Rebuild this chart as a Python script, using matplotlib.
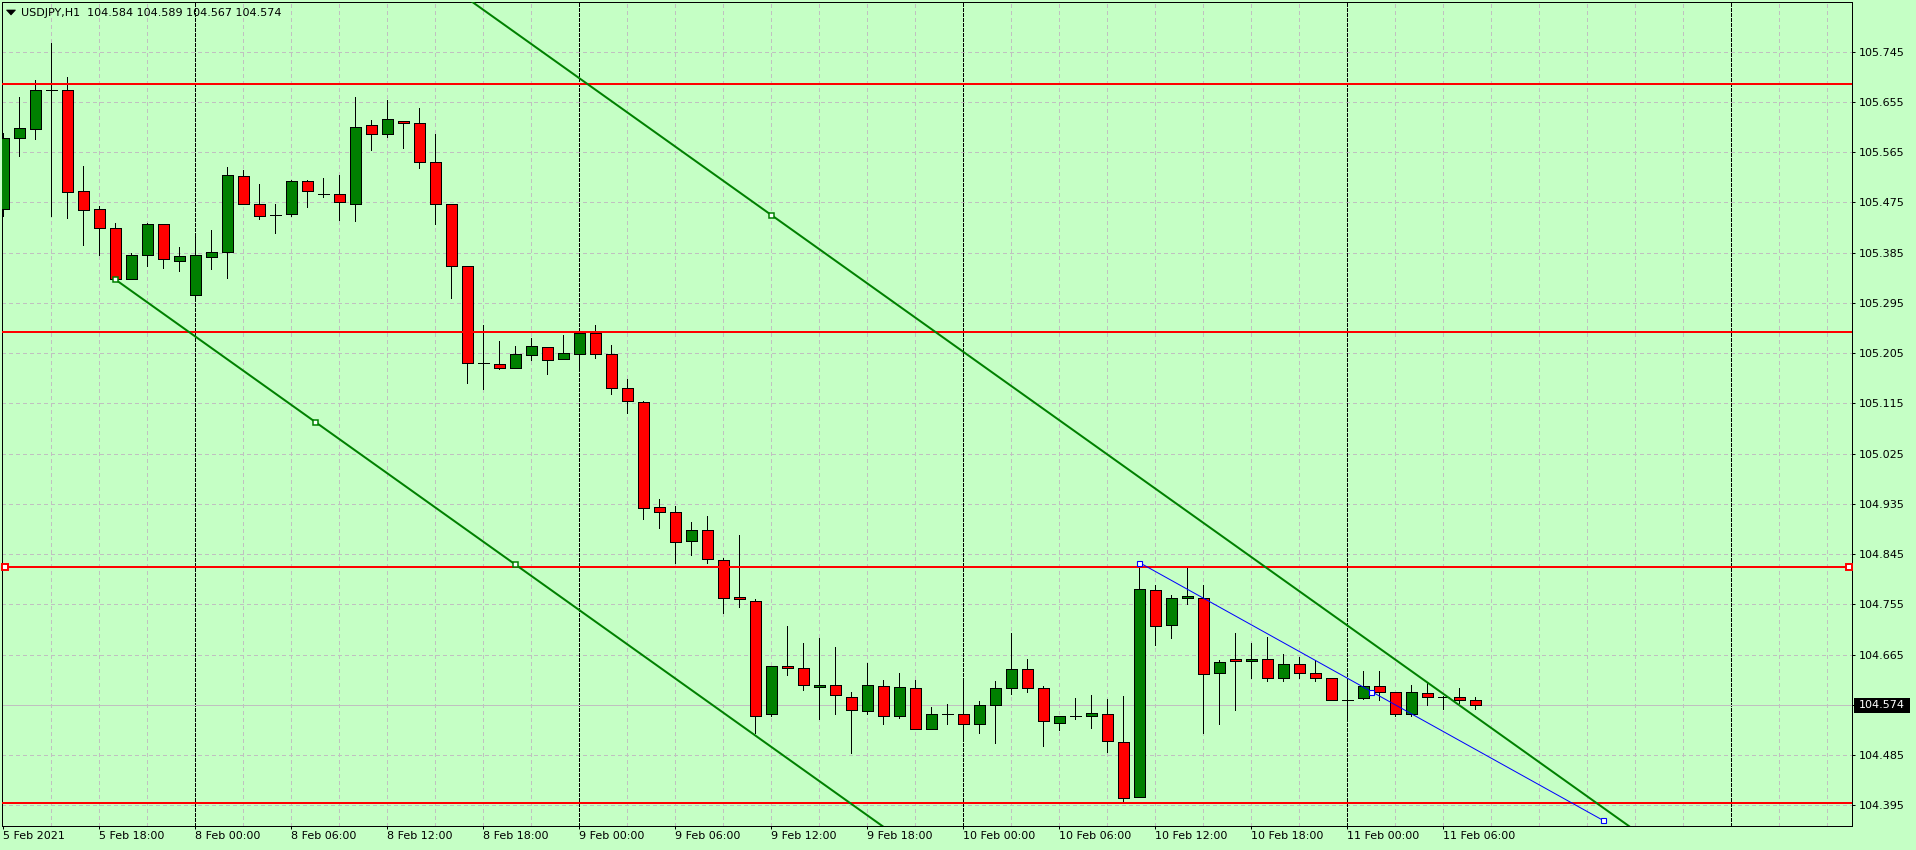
import matplotlib
matplotlib.use("Agg")
import matplotlib.pyplot as plt
from matplotlib.patches import Rectangle, Polygon

# ---------------- data ----------------
header_text = "USDJPY,H1  104.584 104.589 104.567 104.574"

opens = [105.463, 105.590, 105.606, 105.676, 105.676, 105.495, 105.463, 105.429, 105.337, 105.380,
         105.436, 105.371, 105.309, 105.377, 105.386, 105.522, 105.473, 105.453, 105.454, 105.513,
         105.491, 105.491, 105.473, 105.613, 105.597, 105.621, 105.617, 105.547, 105.473, 105.361,
         105.187, 105.185, 105.178, 105.201, 105.216, 105.194, 105.203, 105.241, 105.203, 105.142,
         105.117, 104.929, 104.920, 104.868, 104.888, 104.834, 104.768, 104.762, 104.558, 104.645,
         104.642, 104.607, 104.610, 104.590, 104.564, 104.608, 104.555, 104.605, 104.531, 104.558,
         104.558, 104.540, 104.574, 104.605, 104.639, 104.605, 104.542, 104.555, 104.555, 104.558,
         104.508, 104.410, 104.780, 104.718, 104.766, 104.766, 104.632, 104.657, 104.653, 104.658,
         104.623, 104.648, 104.633, 104.624, 104.584, 104.587, 104.608, 104.599, 104.558, 104.596,
         104.590, 104.590, 104.584]
highs = [105.600, 105.663, 105.694, 105.760, 105.699, 105.540, 105.469, 105.439, 105.384, 105.439,
         105.436, 105.396, 105.414, 105.426, 105.538, 105.534, 105.508, 105.472, 105.516, 105.515,
         105.518, 105.524, 105.663, 105.623, 105.659, 105.621, 105.644, 105.598, 105.473, 105.362,
         105.255, 105.227, 105.217, 105.232, 105.216, 105.238, 105.247, 105.256, 105.219, 105.159,
         105.119, 104.944, 104.931, 104.903, 104.913, 104.839, 104.879, 104.764, 104.644, 104.716,
         104.686, 104.694, 104.679, 104.599, 104.650, 104.620, 104.632, 104.620, 104.572, 104.576,
         104.621, 104.582, 104.618, 104.704, 104.657, 104.608, 104.555, 104.587, 104.593, 104.586,
         104.591, 104.830, 104.789, 104.772, 104.821, 104.790, 104.655, 104.704, 104.685, 104.697,
         104.666, 104.661, 104.655, 104.624, 104.620, 104.636, 104.636, 104.599, 104.611, 104.615,
         104.591, 104.606, 104.589]
lows = [105.450, 105.559, 105.589, 105.451, 105.448, 105.398, 105.380, 105.337, 105.337, 105.362,
        105.358, 105.353, 105.303, 105.355, 105.339, 105.473, 105.446, 105.421, 105.451, 105.467,
        105.484, 105.444, 105.442, 105.569, 105.592, 105.573, 105.536, 105.436, 105.304, 105.152,
        105.141, 105.176, 105.178, 105.192, 105.168, 105.194, 105.174, 105.197, 105.132, 105.097,
        104.908, 104.892, 104.830, 104.844, 104.830, 104.739, 104.750, 104.525, 104.556, 104.629,
        104.601, 104.549, 104.559, 104.488, 104.558, 104.540, 104.552, 104.531, 104.531, 104.541,
        104.517, 104.524, 104.506, 104.594, 104.598, 104.501, 104.530, 104.549, 104.533, 104.491,
        104.401, 104.410, 104.683, 104.695, 104.755, 104.525, 104.540, 104.565, 104.624, 104.617,
        104.617, 104.624, 104.618, 104.583, 104.551, 104.585, 104.583, 104.556, 104.556, 104.574,
        104.567, 104.578, 104.567]
closes = [105.590, 105.608, 105.676, 105.676, 105.494, 105.461, 105.429, 105.337, 105.380, 105.436,
          105.373, 105.379, 105.380, 105.386, 105.524, 105.473, 105.450, 105.453, 105.513, 105.495,
          105.491, 105.475, 105.611, 105.597, 105.624, 105.617, 105.547, 105.473, 105.361, 105.187,
          105.187, 105.178, 105.203, 105.217, 105.192, 105.205, 105.241, 105.204, 105.142, 105.119,
          104.927, 104.920, 104.866, 104.888, 104.836, 104.766, 104.764, 104.556, 104.644, 104.642,
          104.610, 104.610, 104.592, 104.565, 104.610, 104.555, 104.607, 104.531, 104.558, 104.558,
          104.540, 104.574, 104.605, 104.639, 104.605, 104.546, 104.555, 104.555, 104.560, 104.510,
          104.408, 104.782, 104.716, 104.766, 104.770, 104.630, 104.651, 104.653, 104.658, 104.623,
          104.648, 104.633, 104.624, 104.583, 104.584, 104.608, 104.599, 104.558, 104.598, 104.590,
          104.590, 104.583, 104.574]

time_tick_bars = [0, 6, 12, 18, 24, 30, 36, 42, 48, 54, 60, 66, 72, 78, 84, 90]
time_tick_labels = ["5 Feb 2021", "5 Feb 18:00", "8 Feb 00:00", "8 Feb 06:00", "8 Feb 12:00",
                    "8 Feb 18:00", "9 Feb 00:00", "9 Feb 06:00", "9 Feb 12:00", "9 Feb 18:00",
                    "10 Feb 00:00", "10 Feb 06:00", "10 Feb 12:00", "10 Feb 18:00",
                    "11 Feb 00:00", "11 Feb 06:00"]
day_separator_bars = [12, 36, 60, 84, 108]

price_levels = [105.745, 105.655, 105.565, 105.475, 105.385, 105.295, 105.205, 105.115,
                105.025, 104.935, 104.845, 104.755, 104.665, 104.575, 104.485, 104.395]
price_labels = ["105.745", "105.655", "105.565", "105.475", "105.385", "105.295", "105.205",
                "105.115", "105.025", "104.935", "104.845", "104.755", "104.665", "",
                "104.485", "104.395"]

hlines_red = [105.687, 105.2435, 104.8226, 104.3998]
channel_a = (7, 105.337)      # lower line anchor 1
channel_b = (32, 104.8265)    # lower line anchor 2
channel_c = (48, 105.4525)    # upper parallel line anchor
blue_a = (71, 104.830)
blue_b = (100, 104.368)
bid_price = 104.574
bid_label = "104.574"

# ---------------- style ----------------
BG = "#C5FFC5"
GRID = "#C0C0C0"
BULL = "#008000"
BEAR = "#FF0000"
PX = 0.72  # one pixel in points at dpi 100

W, H = 1916, 850
fig = plt.figure(figsize=(W / 100, H / 100), dpi=100)
fig.patch.set_facecolor(BG)

ax_l, ax_r, ax_t, ax_b = 2.3, 1852.3, 2.3, 826.0
ax = fig.add_axes([ax_l / W, (H - ax_b) / H, (ax_r - ax_l) / W, (ax_b - ax_t) / H])
ax.set_facecolor(BG)

n_bars = len(opens)
xs = list(range(n_bars))
ax.set_xlim(-0.0625, 115.5625)
ax.set_ylim(104.3581, 105.8335)

# grid
for b in range(3, 116, 3):
    if b in day_separator_bars:
        continue
    ax.axvline(b, color=GRID, lw=PX, ls=(0, (3, 3)), zorder=0.5, antialiased=False)
for p in price_levels:
    ax.axhline(p, color=GRID, lw=PX, ls=(0, (3, 3)), zorder=0.5, antialiased=False)
for b in day_separator_bars:
    ax.axvline(b, color="black", lw=PX, ls=(0, (3, 2)), zorder=0.6, antialiased=False)

# bid line
ax.axhline(bid_price, color=GRID, lw=PX, zorder=0.7, antialiased=False)

# candles
body_w = 0.65
ax.vlines(xs, lows, highs, color="black", lw=PX, zorder=2, antialiased=False)
for i in xs:
    o, c = opens[i], closes[i]
    if abs(c - o) < 1e-9:
        ax.hlines(o, i - body_w / 2, i + body_w / 2, color="black", lw=PX, zorder=3,
                  antialiased=False)
    else:
        col = BULL if c > o else BEAR
        ax.bar(i, abs(c - o), bottom=min(o, c), width=body_w, color=col,
               edgecolor="black", linewidth=PX, zorder=3, antialiased=False)

# horizontal red levels
for p in hlines_red:
    ax.axhline(p, color="#FF0000", lw=2 * PX, zorder=4)
sel = hlines_red[2]
ax.plot([0.106, 115.37], [sel, sel], ls="none", marker="s", ms=4.2, mfc="white",
        mec="#FF0000", mew=1.4, zorder=6, clip_on=False)

# equidistant channel (green)
slope = (channel_b[1] - channel_a[1]) / (channel_b[0] - channel_a[0])
x_end = 130
ax.plot([channel_a[0], x_end], [channel_a[1], channel_a[1] + slope * (x_end - channel_a[0])],
        color=BULL, lw=2 * PX, zorder=4, solid_capstyle="butt")
x0 = channel_a[0]
ax.plot([x0, x_end], [channel_c[1] + slope * (x0 - channel_c[0]),
                      channel_c[1] + slope * (x_end - channel_c[0])],
        color=BULL, lw=2 * PX, zorder=4, solid_capstyle="butt")
mid_x = (channel_a[0] + channel_b[0]) / 2
mid_y = (channel_a[1] + channel_b[1]) / 2
ax.plot([channel_a[0], mid_x, channel_b[0], channel_c[0]],
        [channel_a[1], mid_y, channel_b[1], channel_c[1]],
        ls="none", marker="s", ms=3.6, mfc="white", mec=BULL, mew=1.1, zorder=6)

# blue trend line
ax.plot([blue_a[0], blue_b[0]], [blue_a[1], blue_b[1]], color="#0000FF", lw=PX, zorder=5)
ax.plot([blue_a[0], (blue_a[0] + blue_b[0]) / 2, blue_b[0]],
        [blue_a[1], (blue_a[1] + blue_b[1]) / 2, blue_b[1]],
        ls="none", marker="s", ms=3.6, mfc="white", mec="#0000FF", mew=0.8, zorder=6)

# spines
for s in ax.spines.values():
    s.set_color("black")
    s.set_linewidth(PX)

# axes ticks
ax.set_xticks(time_tick_bars)
ax.set_xticklabels(time_tick_labels)
for lbl in ax.get_xticklabels():
    lbl.set_horizontalalignment("left")
ax.tick_params(axis="x", direction="out", length=3 * PX, width=PX, pad=1.5,
               labelsize=8, colors="black")
ax.yaxis.tick_right()
ax.set_yticks(price_levels)
ax.set_yticklabels(price_labels)
ax.tick_params(axis="y", direction="out", length=3 * PX, width=PX, pad=2.5,
               labelsize=8, colors="black")

# header text and triangle
ax.text((21 - ax_l) / (ax_r - ax_l), 1 - (16.5 - ax_t) / (ax_b - ax_t), header_text,
        transform=ax.transAxes, fontsize=8, color="black", va="baseline", ha="left", zorder=10)
tri = Polygon([[6.5 / W, 1 - 10 / H], [15.5 / W, 1 - 10 / H], [11 / W, 1 - 15 / H]],
              closed=True, transform=fig.transFigure, facecolor="black", edgecolor="black",
              lw=0.5)
fig.add_artist(tri)

# bid price box
fig.add_artist(Rectangle((1854 / W, 1 - 713 / H), 56 / W, 15 / H, transform=fig.transFigure,
                         facecolor="black", edgecolor="none"))
fig.text(1859 / W, 1 - 705.5 / H, bid_label, color="white", fontsize=8, va="center",
         ha="left")

fig.savefig("out.png", dpi=100, facecolor=BG)
